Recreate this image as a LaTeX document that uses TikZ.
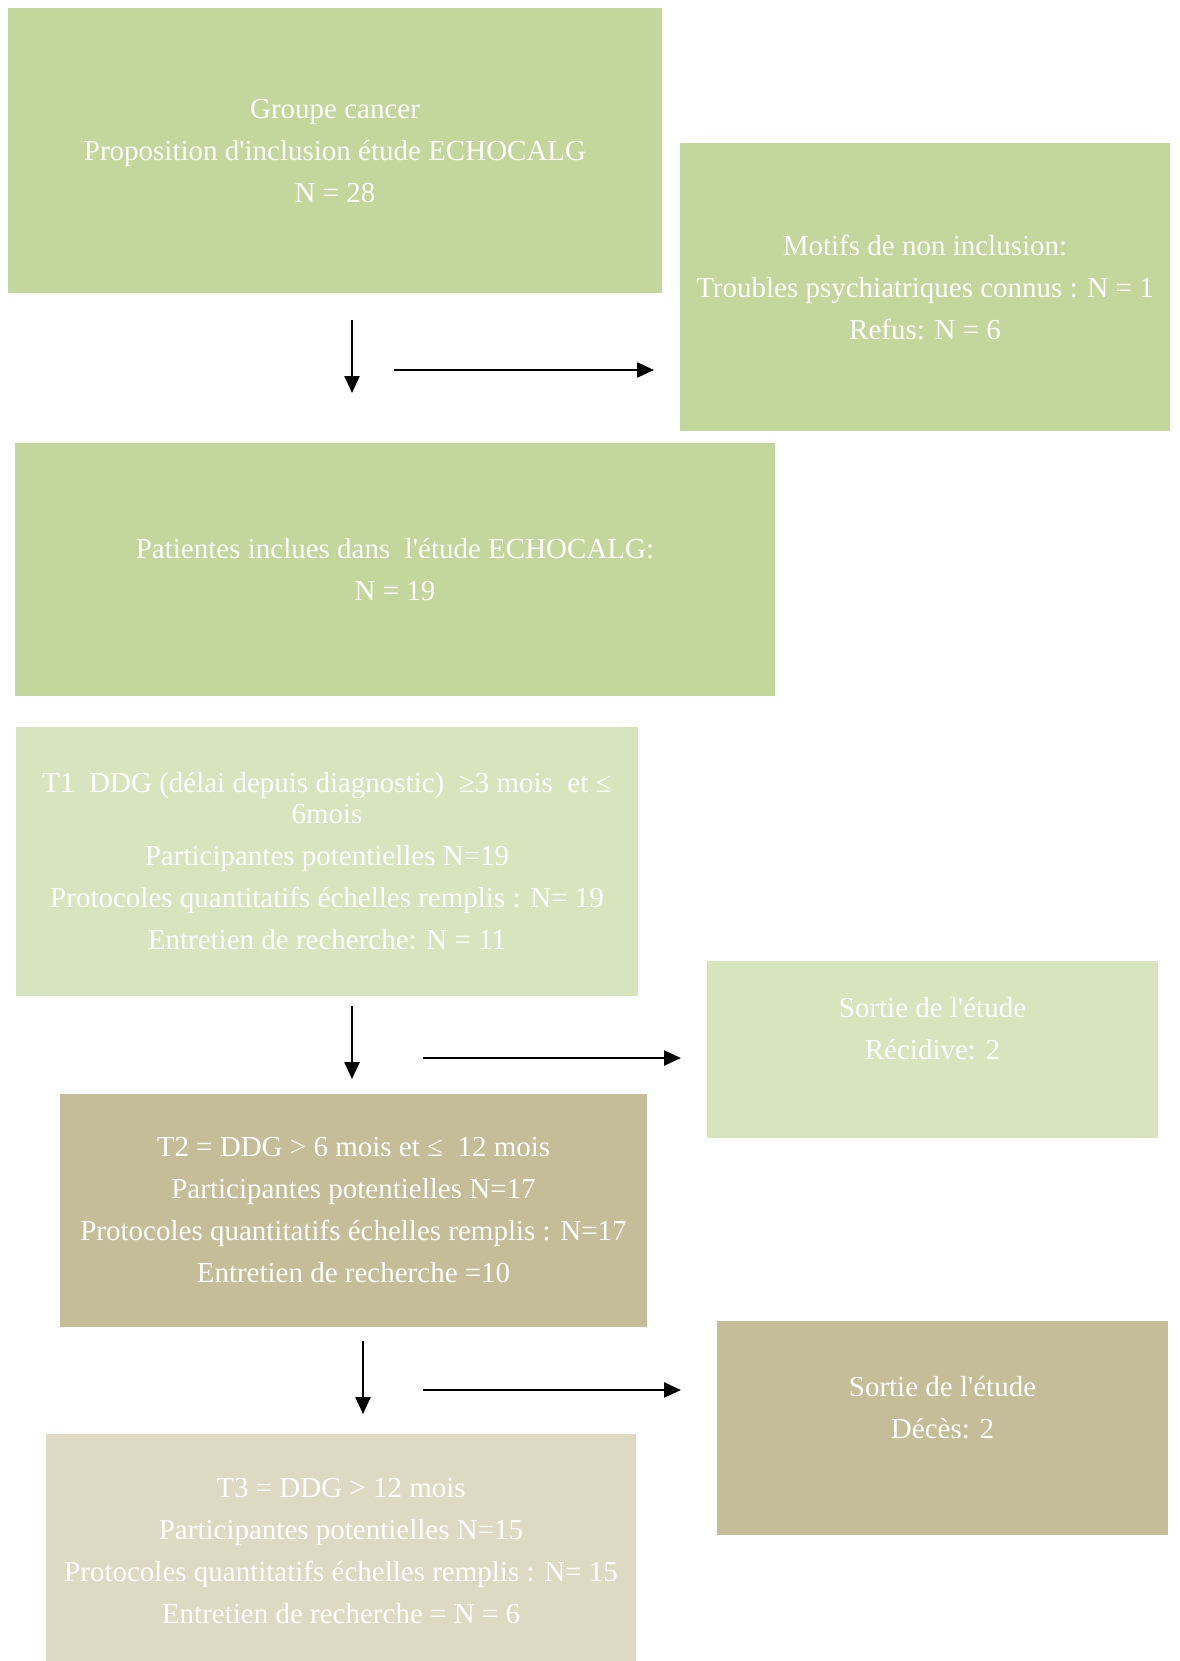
\documentclass[tikz,border=0pt]{standalone}
\usepackage{fontspec}
\setmainfont{Liberation Serif}
\usetikzlibrary{arrows.meta}
\definecolor{greenmid}{HTML}{C3D69B}
\definecolor{greenpale}{HTML}{D7E4BD}
\definecolor{tanmid}{HTML}{C4BD97}
\definecolor{tanpale}{HTML}{DDD9C3}

\begin{document}
\begin{tikzpicture}[
  x=1pt, y=-1pt,
  font=\fontsize{29}{31}\selectfont,
  flowbox/.style={rectangle, inner sep=0pt, text=white, align=center},
  arrow/.style={-{Triangle[length=17pt, width=15pt]}, line width=2.4pt},
]
\useasboundingbox (0,0) rectangle (1179,1661);

\node[flowbox, fill=greenmid, minimum width=654, minimum height=285] (cancer) at (335,151) {Groupe cancer\\[11pt]Proposition d\textquotesingle inclusion étude ECHOCALG\\[11pt]N = 28};
\node[flowbox, fill=greenmid, minimum width=490, minimum height=288] (motifs) at (925,287) {Motifs de non inclusion:\\[11pt]Troubles psychiatriques connus : N = 1\\[11pt]Refus: N = 6};
\node[flowbox, fill=greenmid, minimum width=760, minimum height=253] (inclus) at (395,569.5) {Patientes inclues dans\ \ l\textquotesingle étude ECHOCALG:\\[11pt]N = 19};
\node[flowbox, fill=greenpale, minimum width=622, minimum height=269] (t1) at (327,861.5) {T1\ \ DDG (délai depuis diagnostic)\ \ ≥3 mois\ \ et ≤\\6mois\\[11pt]Participantes potentielles N=19\\[11pt]Protocoles quantitatifs échelles remplis : N= 19\\[11pt]Entretien de recherche: N = 11};
\node[flowbox, fill=greenpale, minimum width=451, minimum height=177] (sortie1) at (932.5,1049.5) {Sortie de l\textquotesingle étude\\[11pt]Récidive: 2\\[11pt]~};
\node[flowbox, fill=tanmid, minimum width=587, minimum height=233] (t2) at (353.5,1210.5) {T2 = DDG > 6 mois et ≤\ \ 12 mois\\[11pt]Participantes potentielles N=17\\[11pt]Protocoles quantitatifs échelles remplis : N=17\\[11pt]Entretien de recherche =10};
\node[flowbox, fill=tanmid, minimum width=451, minimum height=214] (sortie2) at (942.5,1428) {Sortie de l\textquotesingle étude\\[11pt]Décès: 2\\[11pt]~};
\node[flowbox, fill=tanpale, minimum width=590, minimum height=234] (t3) at (341,1551) {T3 = DDG > 12 mois\\[11pt]Participantes potentielles N=15\\[11pt]Protocoles quantitatifs échelles remplis : N= 15\\[11pt]Entretien de recherche = N = 6};

% free-standing arrows between the boxes
\coordinate (d1-top) at (352,320);
\coordinate (d1-bot) at (352,393);
\coordinate (r1-left) at (394,370);
\coordinate (r1-right) at (654,370);
\coordinate (d2-top) at (352,1006);
\coordinate (d2-bot) at (352,1079);
\coordinate (r2-left) at (423,1058);
\coordinate (r2-right) at (681,1058);
\coordinate (d3-top) at (363,1341);
\coordinate (d3-bot) at (363,1414);
\coordinate (r3-left) at (423,1390);
\coordinate (r3-right) at (681,1390);

\draw[arrow] (d1-top) -- (d1-bot);
\draw[arrow] (r1-left) -- (r1-right);
\draw[arrow] (d2-top) -- (d2-bot);
\draw[arrow] (r2-left) -- (r2-right);
\draw[arrow] (d3-top) -- (d3-bot);
\draw[arrow] (r3-left) -- (r3-right);

\end{tikzpicture}
\end{document}
